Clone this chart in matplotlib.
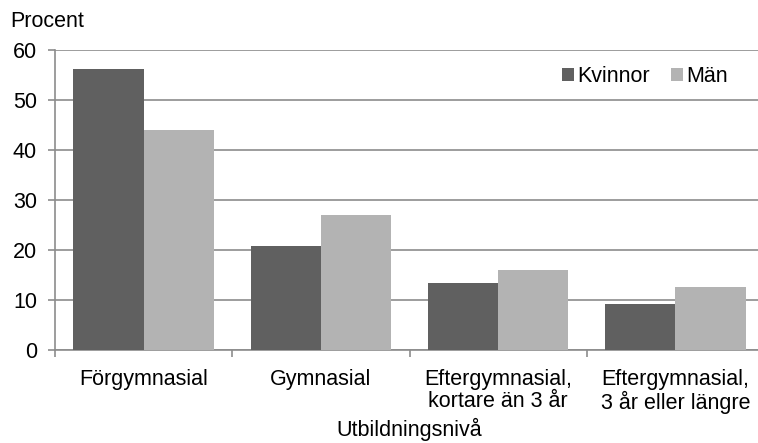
import numpy as np
import matplotlib
matplotlib.use("Agg")
import matplotlib.pyplot as plt

plt.rcParams['font.family'] = ['Liberation Sans', 'DejaVu Sans']

categories = ["Förgymnasial", "Gymnasial", "Eftergymnasial,\nkortare än 3 år", "Eftergymnasial,\n3 år eller längre"]
kvinnor = [56.3, 20.9, 13.5, 9.2]
man = [44.0, 27.0, 16.0, 12.7]
yticks = [0, 10, 20, 30, 40, 50, 60]

W, H = 758, 443
FS = 15.5
fig = plt.figure(figsize=(W / 100, H / 100), dpi=100)
ax = fig.add_axes([55 / W, 1 - 350 / H, 709 / W, 300 / H])

x = np.arange(len(categories))
bw = 0.397
ax.bar(x - bw / 2, kvinnor, bw, color="#606060", label="Kvinnor", zorder=3)
ax.bar(x + bw / 2, man, bw, color="#b3b3b3", label="Män", zorder=3)

ax.set_xlim(-0.5, 3.5)
ax.set_ylim(0, 60)
ax.set_yticks(yticks)
ax.yaxis.grid(True, color="#8c8c8c", linewidth=1.2, zorder=0)
ax.tick_params(axis="y", length=5, width=1.2, color="#8c8c8c", labelsize=FS, pad=8)

# category boundaries carry the tick marks, labels sit at the centres
ax.set_xticks(np.arange(-0.5, 4.0, 1.0))
ax.set_xticklabels([])
ax.tick_params(axis="x", length=5, width=1.2, color="#8c8c8c")
for xi, lab in zip(x, categories):
    ax.text(xi, -3.8, lab, ha="center", va="top", fontsize=FS, linespacing=1.05)

for s in ["top", "right"]:
    ax.spines[s].set_visible(False)
for s in ["left", "bottom"]:
    ax.spines[s].set_color("#8c8c8c")
    ax.spines[s].set_linewidth(1.2)

fig.text(10 / W, 1 - 27 / H, "Procent", fontsize=FS, va="baseline", ha="left")
fig.text(409 / W, 1 - 436 / H, "Utbildningsnivå", fontsize=FS, va="baseline", ha="center")

ax.legend(loc="center left", bbox_to_anchor=((562 - 55) / 709, (350 - 77) / 300), frameon=False, ncol=2,
          fontsize=FS, handlelength=0.55, handleheight=0.55, handletextpad=0.15,
          columnspacing=1.0, borderaxespad=0, borderpad=0)

fig.savefig("out.png", dpi=100)
